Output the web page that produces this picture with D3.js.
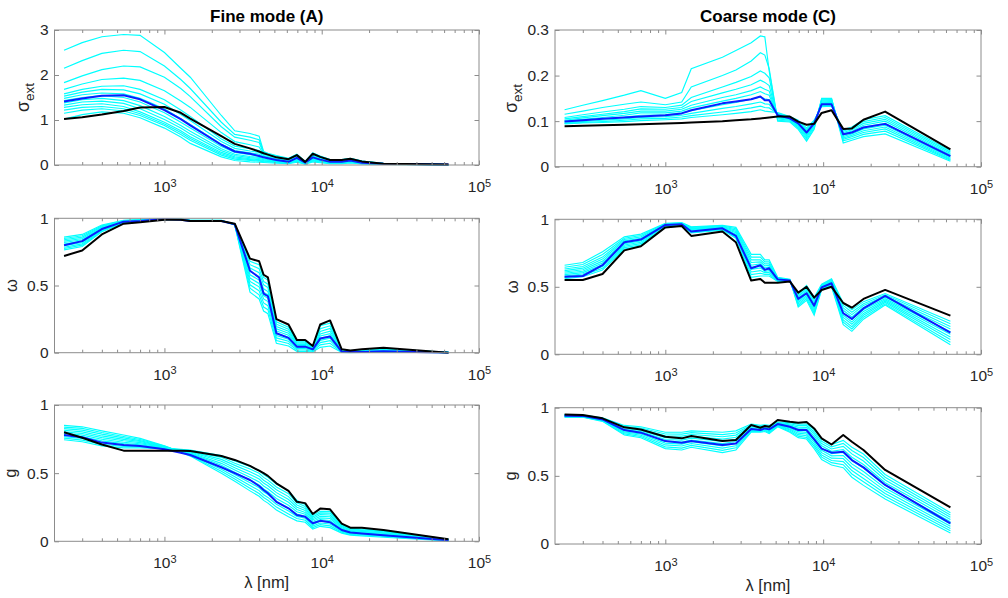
<!DOCTYPE html>
<html><head><meta charset="utf-8">
<script src="https://cdn.jsdelivr.net/npm/d3@7"></script>
<style>
html,body{margin:0;padding:0;background:#fff;}
svg{display:block;font-family:"Liberation Sans",Arial,Helvetica,sans-serif;}
</style></head><body>
<svg id="chart" width="1008" height="598"></svg>
<script>
// ---------------- DATA ----------------
const wavelengths = [230, 300, 400, 550, 700, 1000, 1270, 1460, 2300, 2800, 3500, 4000, 4270, 4550, 5150, 6150, 6950, 7850, 8770, 9780, 11300, 13400, 15200, 18000, 24700, 64000];
const xTickValues = [1e3, 1e4, 1e5];
const xMinorTicks = [300,400,500,600,700,800,900,2000,3000,4000,5000,6000,7000,8000,9000,20000,30000,40000,50000,60000,70000,80000,90000];
const columnTitles = ["Fine mode (A)", "Coarse mode (C)"];
const xLabel = "λ [nm]";

// Fine mode sigma_ext
const fineExtBlack = [1.02,1.06,1.12,1.20,1.28,1.29,1.16,1.03,0.64,0.47,0.37,0.30,0.26,0.23,0.17,0.13,0.22,0.07,0.25,0.18,0.11,0.11,0.14,0.08,0.03,0.01];
const fineExtBlue  = [1.41,1.48,1.54,1.55,1.46,1.22,1.02,0.88,0.45,0.30,0.25,0.20,0.17,0.15,0.11,0.07,0.16,0.05,0.17,0.12,0.07,0.07,0.10,0.05,0.03,0.01];
const fineExtCyan = [
 [2.55,2.72,2.85,2.90,2.88,2.50,2.15,1.95,1.10,0.76,0.70,0.64,0.30,0.26,0.21,0.15,0.24,0.08,0.27,0.20,0.12,0.12,0.15,0.09,0.035,0.012],
 [2.15,2.32,2.48,2.55,2.52,2.20,1.90,1.70,0.95,0.68,0.62,0.56,0.28,0.24,0.20,0.14,0.23,0.075,0.26,0.19,0.115,0.115,0.145,0.085,0.032,0.011],
 [1.83,1.98,2.12,2.20,2.18,1.95,1.70,1.52,0.85,0.62,0.55,0.50,0.26,0.23,0.18,0.12,0.21,0.07,0.24,0.18,0.11,0.11,0.14,0.08,0.03,0.01],
 [1.68,1.80,1.90,1.93,1.88,1.65,1.42,1.28,0.72,0.52,0.45,0.40,0.24,0.21,0.16,0.11,0.20,0.065,0.22,0.16,0.10,0.10,0.13,0.075,0.03,0.01],
 [1.58,1.68,1.75,1.76,1.68,1.45,1.22,1.08,0.58,0.42,0.36,0.32,0.21,0.19,0.14,0.09,0.18,0.06,0.20,0.14,0.09,0.09,0.12,0.07,0.028,0.01],
 [1.53,1.62,1.68,1.67,1.58,1.35,1.12,0.99,0.52,0.37,0.31,0.28,0.195,0.175,0.13,0.085,0.17,0.055,0.19,0.135,0.085,0.085,0.11,0.065,0.026,0.009],
 [1.48,1.56,1.60,1.58,1.48,1.25,1.03,0.90,0.46,0.32,0.27,0.24,0.18,0.16,0.12,0.08,0.16,0.05,0.18,0.13,0.08,0.08,0.10,0.06,0.025,0.008],
 [1.43,1.50,1.54,1.50,1.40,1.16,0.95,0.82,0.41,0.28,0.23,0.20,0.16,0.14,0.105,0.07,0.145,0.045,0.16,0.115,0.072,0.072,0.092,0.055,0.022,0.0075],
 [1.38,1.45,1.48,1.43,1.32,1.08,0.88,0.75,0.36,0.24,0.19,0.17,0.14,0.12,0.09,0.06,0.13,0.04,0.14,0.10,0.065,0.065,0.085,0.05,0.02,0.007],
 [1.33,1.40,1.42,1.37,1.25,1.01,0.82,0.69,0.32,0.21,0.165,0.145,0.12,0.105,0.08,0.055,0.115,0.035,0.125,0.09,0.058,0.058,0.078,0.045,0.019,0.0065],
 [1.28,1.34,1.36,1.30,1.18,0.95,0.76,0.63,0.28,0.18,0.14,0.12,0.10,0.09,0.07,0.05,0.10,0.03,0.11,0.08,0.05,0.05,0.07,0.04,0.018,0.006],
 [1.22,1.28,1.30,1.25,1.14,0.91,0.72,0.59,0.25,0.155,0.12,0.10,0.088,0.08,0.062,0.045,0.09,0.028,0.10,0.072,0.045,0.045,0.062,0.035,0.016,0.0055],
 [1.15,1.22,1.25,1.20,1.10,0.88,0.68,0.55,0.22,0.13,0.10,0.085,0.075,0.07,0.055,0.04,0.08,0.025,0.09,0.065,0.04,0.04,0.055,0.03,0.015,0.005],
 [1.02,1.12,1.18,1.15,1.05,0.82,0.62,0.48,0.18,0.10,0.07,0.06,0.055,0.05,0.04,0.03,0.06,0.02,0.07,0.05,0.03,0.03,0.045,0.025,0.012,0.004]
];

// Coarse mode sigma_ext
const coarseExtBlack = [0.089,0.090,0.091,0.092,0.093,0.095,0.096,0.097,0.100,0.102,0.104,0.106,0.107,0.108,0.110,0.110,0.099,0.092,0.094,0.118,0.124,0.083,0.084,0.103,0.121,0.038];
const coarseExtBlue  = [0.099,0.102,0.105,0.108,0.110,0.113,0.117,0.124,0.139,0.143,0.148,0.154,0.146,0.146,0.113,0.106,0.095,0.075,0.095,0.137,0.137,0.071,0.075,0.086,0.094,0.023];
const coarseExtCyan = [
 [0.125,0.135,0.145,0.157,0.167,0.150,0.163,0.215,0.240,0.255,0.272,0.287,0.285,0.210,0.100,0.098,0.082,0.056,0.082,0.150,0.150,0.052,0.058,0.066,0.072,0.012],
 [0.115,0.122,0.130,0.137,0.142,0.136,0.142,0.175,0.200,0.212,0.232,0.250,0.245,0.215,0.102,0.100,0.085,0.060,0.085,0.148,0.149,0.057,0.062,0.071,0.078,0.014],
 [0.108,0.114,0.120,0.126,0.132,0.130,0.135,0.152,0.175,0.185,0.198,0.210,0.205,0.195,0.105,0.102,0.088,0.064,0.088,0.146,0.147,0.060,0.066,0.075,0.083,0.016],
 [0.105,0.110,0.115,0.121,0.127,0.126,0.130,0.143,0.162,0.170,0.180,0.190,0.185,0.178,0.107,0.104,0.090,0.067,0.090,0.144,0.145,0.063,0.069,0.079,0.087,0.018],
 [0.102,0.107,0.112,0.117,0.122,0.122,0.126,0.135,0.152,0.158,0.167,0.175,0.170,0.166,0.109,0.105,0.092,0.070,0.092,0.142,0.143,0.066,0.072,0.083,0.091,0.020],
 [0.100,0.104,0.108,0.113,0.118,0.118,0.122,0.129,0.144,0.150,0.158,0.165,0.160,0.157,0.111,0.106,0.094,0.073,0.094,0.140,0.141,0.069,0.075,0.087,0.095,0.023],
 [0.098,0.101,0.105,0.109,0.113,0.114,0.118,0.123,0.136,0.141,0.148,0.153,0.149,0.147,0.113,0.107,0.096,0.076,0.096,0.138,0.139,0.072,0.078,0.091,0.100,0.026],
 [0.096,0.099,0.102,0.105,0.108,0.110,0.113,0.117,0.128,0.132,0.138,0.142,0.138,0.137,0.115,0.108,0.098,0.079,0.098,0.136,0.137,0.075,0.081,0.095,0.104,0.029],
 [0.095,0.097,0.099,0.102,0.105,0.106,0.109,0.112,0.120,0.124,0.129,0.133,0.130,0.129,0.117,0.109,0.100,0.082,0.100,0.134,0.135,0.078,0.084,0.099,0.108,0.032],
 [0.094,0.096,0.097,0.099,0.101,0.103,0.105,0.108,0.114,0.117,0.121,0.125,0.122,0.121,0.119,0.110,0.102,0.085,0.102,0.132,0.133,0.081,0.087,0.103,0.112,0.035]
];

// Fine mode omega
const fineOmegaBlack = [0.72,0.76,0.88,0.96,0.97,0.99,0.99,0.98,0.98,0.96,0.70,0.68,0.58,0.56,0.25,0.21,0.094,0.094,0.05,0.21,0.24,0.025,0.017,0.025,0.037,0.0];
const fineOmegaBlue  = [0.80,0.83,0.92,0.975,0.98,0.995,0.99,0.98,0.98,0.955,0.61,0.56,0.44,0.42,0.145,0.11,0.045,0.045,0.025,0.105,0.12,0.008,0.005,0.006,0.01,0.0];
const fineOmegaCyan = [
 [0.860,0.880,0.950,0.985,0.990,0.995,0.995,0.985,0.985,0.950,0.450,0.400,0.310,0.290,0.070,0.050,0.010,0.010,0.005,0.040,0.050,0.002,0.001,0.002,0.003,0.000],
 [0.850,0.870,0.944,0.983,0.988,0.995,0.995,0.985,0.985,0.951,0.480,0.430,0.340,0.320,0.090,0.068,0.020,0.020,0.010,0.058,0.070,0.004,0.003,0.004,0.006,0.000],
 [0.840,0.860,0.938,0.980,0.987,0.994,0.994,0.984,0.984,0.952,0.505,0.460,0.370,0.350,0.110,0.085,0.030,0.030,0.015,0.075,0.090,0.006,0.004,0.006,0.009,0.001],
 [0.830,0.850,0.932,0.978,0.985,0.994,0.994,0.984,0.984,0.953,0.530,0.490,0.400,0.380,0.128,0.100,0.038,0.038,0.020,0.092,0.108,0.008,0.005,0.008,0.012,0.001],
 [0.820,0.840,0.926,0.976,0.984,0.993,0.993,0.983,0.983,0.954,0.555,0.515,0.425,0.405,0.145,0.115,0.046,0.046,0.024,0.108,0.125,0.010,0.007,0.010,0.015,0.001],
 [0.808,0.830,0.921,0.974,0.982,0.993,0.993,0.983,0.983,0.955,0.580,0.540,0.450,0.430,0.162,0.130,0.054,0.054,0.028,0.124,0.142,0.012,0.008,0.012,0.018,0.002],
 [0.796,0.820,0.916,0.972,0.980,0.992,0.992,0.982,0.982,0.956,0.605,0.565,0.475,0.455,0.178,0.145,0.062,0.062,0.032,0.140,0.160,0.014,0.010,0.014,0.021,0.002],
 [0.785,0.810,0.911,0.970,0.979,0.992,0.992,0.982,0.982,0.957,0.630,0.595,0.505,0.485,0.195,0.160,0.070,0.070,0.036,0.158,0.180,0.016,0.011,0.016,0.024,0.002],
 [0.775,0.800,0.906,0.968,0.977,0.991,0.991,0.981,0.981,0.958,0.655,0.625,0.530,0.510,0.212,0.175,0.078,0.078,0.040,0.178,0.200,0.018,0.013,0.018,0.027,0.003],
 [0.765,0.790,0.900,0.965,0.975,0.990,0.990,0.980,0.980,0.960,0.680,0.655,0.560,0.540,0.230,0.190,0.085,0.085,0.045,0.200,0.220,0.020,0.015,0.020,0.030,0.003]
];

// Coarse mode omega (rows = one per wavelength, columns = ensemble members)
const coarseOmegaBlack = [0.55,0.55,0.595,0.77,0.80,0.94,0.95,0.877,0.91,0.83,0.546,0.558,0.53,0.53,0.53,0.54,0.457,0.50,0.42,0.476,0.50,0.38,0.345,0.41,0.477,0.286];
const coarseOmegaBlue  = [0.575,0.58,0.66,0.83,0.85,0.958,0.963,0.91,0.933,0.877,0.637,0.66,0.625,0.637,0.555,0.546,0.41,0.452,0.36,0.496,0.526,0.304,0.262,0.34,0.432,0.16];
const coarseOmegaCyanByWl = [
 [0.66,0.645,0.632,0.62,0.61,0.60,0.59,0.58,0.57,0.56],
 [0.68,0.665,0.65,0.638,0.626,0.615,0.605,0.595,0.585,0.575],
 [0.76,0.74,0.72,0.705,0.69,0.676,0.663,0.65,0.637,0.625],
 [0.87,0.86,0.85,0.84,0.83,0.82,0.81,0.80,0.79,0.78],
 [0.89,0.88,0.87,0.86,0.85,0.84,0.83,0.82,0.81,0.80],
 [0.97,0.967,0.963,0.96,0.957,0.954,0.95,0.947,0.944,0.94],
 [0.975,0.972,0.969,0.966,0.963,0.96,0.958,0.955,0.952,0.95],
 [0.945,0.94,0.935,0.93,0.925,0.92,0.915,0.91,0.905,0.90],
 [0.955,0.951,0.947,0.943,0.939,0.935,0.931,0.928,0.924,0.92],
 [0.94,0.93,0.92,0.91,0.90,0.89,0.88,0.87,0.865,0.86],
 [0.74,0.72,0.70,0.68,0.66,0.645,0.63,0.61,0.59,0.57],
 [0.74,0.72,0.70,0.685,0.67,0.655,0.64,0.62,0.60,0.58],
 [0.70,0.685,0.67,0.655,0.64,0.628,0.615,0.605,0.592,0.58],
 [0.70,0.685,0.67,0.658,0.645,0.632,0.62,0.606,0.593,0.58],
 [0.57,0.566,0.563,0.56,0.556,0.553,0.55,0.547,0.543,0.54],
 [0.555,0.553,0.552,0.55,0.548,0.547,0.545,0.543,0.542,0.54],
 [0.35,0.36,0.372,0.383,0.395,0.405,0.416,0.427,0.438,0.45],
 [0.40,0.412,0.424,0.436,0.448,0.46,0.472,0.484,0.497,0.51],
 [0.29,0.305,0.32,0.335,0.35,0.365,0.38,0.393,0.407,0.42],
 [0.48,0.485,0.489,0.494,0.498,0.502,0.506,0.511,0.515,0.52],
 [0.50,0.507,0.513,0.52,0.527,0.533,0.54,0.547,0.553,0.56],
 [0.22,0.238,0.255,0.273,0.29,0.308,0.326,0.344,0.362,0.38],
 [0.17,0.188,0.205,0.223,0.24,0.258,0.276,0.294,0.312,0.33],
 [0.26,0.275,0.289,0.303,0.318,0.332,0.347,0.361,0.375,0.39],
 [0.365,0.374,0.384,0.393,0.403,0.412,0.422,0.431,0.441,0.45],
 [0.07,0.089,0.109,0.128,0.148,0.167,0.187,0.206,0.226,0.245]
];

// Fine mode g (rows = wavelengths)
const fineGBlack = [0.80,0.76,0.71,0.665,0.665,0.665,0.665,0.663,0.626,0.597,0.553,0.518,0.50,0.48,0.425,0.37,0.29,0.28,0.20,0.24,0.235,0.13,0.10,0.10,0.083,0.015];
const fineGBlue  = [0.78,0.763,0.724,0.707,0.70,0.675,0.65,0.633,0.543,0.50,0.45,0.406,0.377,0.352,0.29,0.242,0.193,0.18,0.132,0.15,0.14,0.083,0.064,0.058,0.044,0.007];
const fineGCyanByWl = [
 [0.85,0.838,0.827,0.815,0.803,0.792,0.78,0.768,0.757,0.745],
 [0.84,0.828,0.816,0.803,0.791,0.779,0.767,0.754,0.742,0.73],
 [0.81,0.798,0.786,0.773,0.761,0.749,0.737,0.724,0.712,0.70],
 [0.78,0.769,0.759,0.748,0.738,0.727,0.717,0.706,0.696,0.685],
 [0.755,0.747,0.739,0.732,0.724,0.716,0.708,0.701,0.693,0.685],
 [0.70,0.698,0.696,0.693,0.691,0.689,0.687,0.684,0.682,0.68],
 [0.655,0.657,0.659,0.662,0.664,0.666,0.668,0.671,0.673,0.675],
 [0.625,0.63,0.635,0.64,0.645,0.65,0.655,0.66,0.665,0.67],
 [0.50,0.514,0.529,0.543,0.558,0.572,0.587,0.601,0.616,0.63],
 [0.44,0.457,0.473,0.49,0.507,0.523,0.54,0.557,0.573,0.59],
 [0.37,0.39,0.41,0.43,0.45,0.47,0.49,0.51,0.53,0.55],
 [0.33,0.351,0.372,0.393,0.414,0.436,0.457,0.478,0.499,0.52],
 [0.30,0.321,0.342,0.363,0.384,0.406,0.427,0.448,0.469,0.49],
 [0.28,0.301,0.322,0.343,0.364,0.386,0.407,0.428,0.449,0.47],
 [0.23,0.251,0.272,0.293,0.314,0.336,0.357,0.378,0.399,0.42],
 [0.18,0.201,0.222,0.243,0.264,0.286,0.307,0.328,0.349,0.37],
 [0.15,0.167,0.183,0.20,0.217,0.233,0.25,0.267,0.283,0.30],
 [0.14,0.154,0.169,0.183,0.198,0.212,0.227,0.241,0.256,0.27],
 [0.09,0.101,0.112,0.123,0.134,0.146,0.157,0.168,0.179,0.19],
 [0.11,0.122,0.134,0.147,0.159,0.171,0.183,0.196,0.208,0.22],
 [0.10,0.113,0.127,0.14,0.153,0.167,0.18,0.193,0.207,0.22],
 [0.06,0.067,0.073,0.08,0.087,0.093,0.10,0.107,0.113,0.12],
 [0.045,0.051,0.056,0.062,0.067,0.073,0.078,0.084,0.089,0.095],
 [0.04,0.046,0.051,0.057,0.062,0.068,0.073,0.079,0.084,0.09],
 [0.03,0.036,0.041,0.047,0.052,0.058,0.063,0.069,0.074,0.08],
 [0.003,0.004,0.006,0.007,0.008,0.01,0.011,0.012,0.014,0.015]
];

// Coarse mode g (rows = wavelengths)
const coarseGBlack = [0.951,0.946,0.922,0.856,0.84,0.787,0.775,0.792,0.755,0.763,0.873,0.853,0.866,0.86,0.91,0.897,0.89,0.895,0.848,0.775,0.73,0.80,0.75,0.69,0.543,0.269];
const coarseGBlue  = [0.941,0.94,0.914,0.836,0.817,0.755,0.743,0.755,0.726,0.738,0.843,0.836,0.848,0.841,0.88,0.86,0.836,0.836,0.768,0.70,0.67,0.677,0.616,0.562,0.433,0.152];
const coarseGCyanByWl = [
 [0.95,0.948,0.946,0.943,0.941,0.939,0.937,0.934,0.932,0.93],
 [0.945,0.943,0.942,0.94,0.938,0.937,0.935,0.933,0.932,0.93],
 [0.925,0.922,0.919,0.917,0.914,0.911,0.908,0.906,0.903,0.90],
 [0.87,0.862,0.854,0.847,0.839,0.831,0.823,0.816,0.808,0.80],
 [0.86,0.851,0.842,0.833,0.824,0.816,0.807,0.798,0.789,0.78],
 [0.82,0.807,0.793,0.78,0.767,0.753,0.74,0.727,0.713,0.70],
 [0.82,0.806,0.791,0.777,0.762,0.748,0.733,0.719,0.704,0.69],
 [0.83,0.817,0.803,0.79,0.777,0.763,0.75,0.737,0.723,0.71],
 [0.82,0.803,0.787,0.77,0.753,0.737,0.72,0.703,0.687,0.67],
 [0.83,0.814,0.799,0.783,0.768,0.752,0.737,0.721,0.706,0.69],
 [0.88,0.873,0.867,0.86,0.853,0.847,0.84,0.833,0.827,0.82],
 [0.87,0.864,0.859,0.853,0.848,0.842,0.837,0.831,0.826,0.82],
 [0.875,0.869,0.864,0.858,0.853,0.847,0.842,0.836,0.831,0.825],
 [0.87,0.863,0.857,0.85,0.843,0.837,0.83,0.823,0.817,0.81],
 [0.895,0.891,0.887,0.883,0.879,0.876,0.872,0.868,0.864,0.86],
 [0.89,0.882,0.874,0.867,0.859,0.851,0.843,0.836,0.828,0.82],
 [0.88,0.869,0.858,0.847,0.836,0.824,0.813,0.802,0.791,0.78],
 [0.88,0.868,0.856,0.843,0.831,0.819,0.807,0.794,0.782,0.77],
 [0.84,0.824,0.809,0.793,0.778,0.762,0.747,0.731,0.716,0.70],
 [0.77,0.753,0.737,0.72,0.703,0.687,0.67,0.653,0.637,0.62],
 [0.73,0.713,0.697,0.68,0.663,0.647,0.63,0.613,0.597,0.58],
 [0.76,0.738,0.716,0.693,0.671,0.649,0.627,0.604,0.582,0.56],
 [0.71,0.686,0.661,0.637,0.612,0.588,0.563,0.539,0.514,0.49],
 [0.66,0.634,0.609,0.583,0.558,0.532,0.507,0.481,0.456,0.43],
 [0.51,0.49,0.47,0.45,0.43,0.41,0.39,0.37,0.35,0.33],
 [0.23,0.213,0.197,0.18,0.163,0.147,0.13,0.113,0.097,0.08]
];

const yTicksExtFine = [0, 1, 2, 3];
const yTicksExtCoarse = [0, 0.1, 0.2, 0.3];
const yTicksUnit = [0, 0.5, 1];

// ---------------- LAYOUT ----------------
const colX = [[54.5, 479], [555, 981]];
const rowY = [
  [[30, 165], [218.3, 352.7], [405, 541.3]],
  [[30, 166.7], [219.3, 354.3], [407.7, 544]]
];
const ylabelX = [[29, 17, 16], [517, 518, 516]];

const panels = [
  {c:0, r:0, black:fineExtBlack, blue:fineExtBlue, cyan:fineExtCyan, domain:[0,3], ticks:yTicksExtFine, label:"ext"},
  {c:1, r:0, black:coarseExtBlack, blue:coarseExtBlue, cyan:coarseExtCyan, domain:[0,0.3], ticks:yTicksExtCoarse, label:"ext"},
  {c:0, r:1, black:fineOmegaBlack, blue:fineOmegaBlue, cyan:fineOmegaCyan, domain:[0,1], ticks:yTicksUnit, label:"omega"},
  {c:1, r:1, black:coarseOmegaBlack, blue:coarseOmegaBlue, cyan:d3.transpose(coarseOmegaCyanByWl), domain:[0,1], ticks:yTicksUnit, label:"omega"},
  {c:0, r:2, black:fineGBlack, blue:fineGBlue, cyan:d3.transpose(fineGCyanByWl), domain:[0,1], ticks:yTicksUnit, label:"g"},
  {c:1, r:2, black:coarseGBlack, blue:coarseGBlue, cyan:d3.transpose(coarseGCyanByWl), domain:[0,1], ticks:yTicksUnit, label:"g"}
];

const svg = d3.select("#chart");
const axisColor = "#8c8c8c";
const textColor = "#262626";

panels.forEach((p, idx) => {
  const [x0, x1] = colX[p.c];
  const [y0, y1] = rowY[p.c][p.r];
  const x = d3.scaleLog().domain([200, 1e5]).range([x0, x1]);
  const y = d3.scaleLinear().domain(p.domain).range([y1, y0]);
  const g = svg.append("g");

  const clipId = "clip" + idx;
  svg.append("clipPath").attr("id", clipId).append("rect")
    .attr("x", x0).attr("y", y0 - 1).attr("width", x1 - x0).attr("height", y1 - y0 + 2);

  const line = d3.line().x((d, i) => x(wavelengths[i])).y(d => y(d));
  const plot = g.append("g").attr("clip-path", `url(#${clipId})`);
  plot.selectAll("path.cy").data(p.cyan).join("path").attr("class", "cy")
    .attr("d", line).attr("fill", "none").attr("stroke", "#00ffff").attr("stroke-width", 1.15);
  plot.append("path").attr("d", line(p.blue)).attr("fill", "none")
    .attr("stroke", "#0a1eff").attr("stroke-width", 2).attr("stroke-linejoin", "round");
  plot.append("path").attr("d", line(p.black)).attr("fill", "none")
    .attr("stroke", "#000").attr("stroke-width", 2).attr("stroke-linejoin", "round");

  // axes
  const styleAxis = sel => {
    sel.select(".domain").remove();
    sel.selectAll(".tick line").attr("stroke", axisColor);
    sel.selectAll(".tick text").attr("fill", textColor).attr("font-size", 15.5)
      .attr("font-family", '"Liberation Sans",Arial,sans-serif');
  };
  const xb = g.append("g").attr("transform", `translate(0,${y1})`)
    .call(d3.axisBottom(x).tickValues(xTickValues).tickSizeInner(-4.5).tickSizeOuter(0).tickPadding(16)
      .tickFormat(() => ""));
  styleAxis(xb);
  xb.selectAll(".tick text").each(function(d) {
    const t = d3.select(this);
    t.text(null).attr("dy", "0.71em");
    t.append("tspan").text("10");
    t.append("tspan").attr("dy", "-0.5em").attr("font-size", 11).text(Math.round(Math.log10(d)));
  });
  styleAxis(g.append("g").attr("transform", `translate(0,${y1})`)
    .call(d3.axisBottom(x).tickValues(xMinorTicks).tickSizeInner(-3).tickSizeOuter(0).tickFormat("")));
  styleAxis(g.append("g").attr("transform", `translate(0,${y0})`)
    .call(d3.axisTop(x).tickValues(xTickValues).tickSizeInner(-4.5).tickSizeOuter(0).tickFormat("")));
  styleAxis(g.append("g").attr("transform", `translate(0,${y0})`)
    .call(d3.axisTop(x).tickValues(xMinorTicks).tickSizeInner(-3).tickSizeOuter(0).tickFormat("")));
  styleAxis(g.append("g").attr("transform", `translate(${x0},0)`)
    .call(d3.axisLeft(y).tickValues(p.ticks).tickSizeInner(-4.5).tickSizeOuter(0).tickPadding(6)
      .tickFormat(d => String(d))));
  styleAxis(g.append("g").attr("transform", `translate(${x1},0)`)
    .call(d3.axisRight(y).tickValues(p.ticks).tickSizeInner(-4.5).tickSizeOuter(0).tickFormat("")));

  g.append("rect").attr("x", x0).attr("y", y0).attr("width", x1 - x0).attr("height", y1 - y0)
    .attr("fill", "none").attr("stroke", axisColor).attr("stroke-width", 1);

  // y label
  const cy = (y0 + y1) / 2;
  const lx = ylabelX[p.c][p.r];
  const yl = g.append("text").attr("transform", `translate(${lx},${cy}) rotate(-90)`)
    .attr("text-anchor", "middle").attr("fill", textColor).attr("font-size", 16.5);
  if (p.label === "ext") {
    yl.append("tspan").attr("font-size", 17.5).text("σ");
    yl.append("tspan").attr("dy", "0.4em").attr("font-size", 13.5).text("ext");
  } else if (p.label === "omega") {
    yl.text("ω");
  } else {
    yl.text("g");
  }

  if (p.r === 0) {
    svg.append("text").attr("x", (x0 + x1) / 2).attr("y", 22).attr("text-anchor", "middle")
      .attr("font-weight", "bold").attr("font-size", 17).attr("fill", "#000").text(columnTitles[p.c]);
  }
  if (p.r === 2) {
    svg.append("text").attr("x", (x0 + x1) / 2).attr("y", y1 + 47).attr("text-anchor", "middle")
      .attr("font-size", 16.5).attr("fill", textColor).text(xLabel);
  }
});
</script>
</body></html>
